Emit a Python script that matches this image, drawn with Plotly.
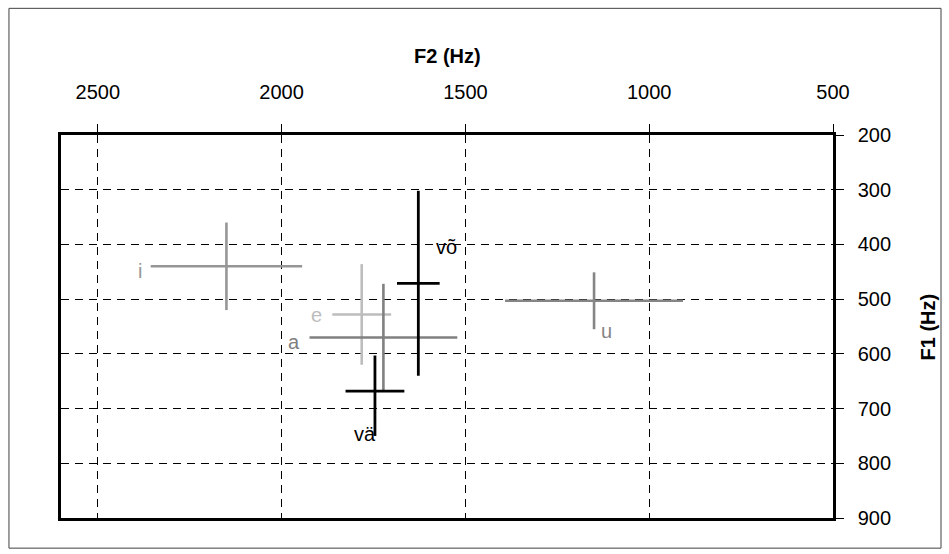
import plotly.graph_objects as go

# Vowel formant means with spread (Hz)
vowels = ["i", "u", "e", "a", "võ", "vä"]
f2_mean = [2150, 1150, 1782, 1723, 1628, 1746]
f2_err = [206, 242, 80, 201, 58, 80]
f1_mean = [440, 503, 528, 570, 471, 668]
f1_err_plus = [80, 52, 92, 98, 169, 82]
f1_err_minus = [80, 52, 92, 98, 169, 65]

colors = ["#969696", "#858585", "#bdbdbd", "#808080", "#000000", "#000000"]
widths = [2.6, 2.6, 2.6, 2.6, 2.8, 2.8]

# label placement: (anchor, xshift, yshift, at left end of the F2 bar?)
label_pos = {
    "i": ("right", -7, -5, True),
    "e": ("right", -8, -1, True),
    "a": ("right", -8, -5, True),
    "võ": ("center", 28, 36, False),
    "vä": ("center", -10, -43, False),
    "u": ("center", 12, -30, False),
}

FONT = "Liberation Sans, Arial, sans-serif"

fig = go.Figure()
for k, v in enumerate(vowels):
    fig.add_trace(go.Scatter(
        x=[f2_mean[k]], y=[f1_mean[k]],
        mode="markers",
        marker=dict(size=1, color="rgba(0,0,0,0)"),
        error_x=dict(type="data", array=[f2_err[k]], symmetric=True,
                     color=colors[k], thickness=widths[k], width=0),
        error_y=dict(type="data", array=[f1_err_plus[k]],
                     arrayminus=[f1_err_minus[k]], symmetric=False,
                     color=colors[k], thickness=widths[k], width=0),
        showlegend=False, hoverinfo="skip", name=v,
    ))
    anchor, dx, dy, at_left = label_pos[v]
    fig.add_annotation(
        x=f2_mean[k] + (f2_err[k] if at_left else 0), y=f1_mean[k],
        text=v, showarrow=False, xanchor=anchor, yanchor="middle",
        xshift=dx, yshift=dy,
        font=dict(family=FONT, size=20,
                  color=colors[k]),
    )

f2_ticks = [2500, 2000, 1500, 1000, 500]
f1_ticks = [200, 300, 400, 500, 600, 700, 800, 900]

fig.update_xaxes(
    range=[2600, 500], side="top",
    tickvals=f2_ticks, ticktext=[str(t) for t in f2_ticks],
    ticks="outside", ticklen=8, tickwidth=1, tickcolor="#000",
    ticklabelstandoff=17,
    showline=True, linewidth=2.5, linecolor="#000", mirror=True,
    showgrid=True, gridcolor="#000", gridwidth=1, griddash="8px,6px",
    zeroline=False,
    tickfont=dict(family=FONT, size=20, color="#000"),
)
fig.update_yaxes(
    range=[900, 200], side="right",
    tickvals=f1_ticks, ticktext=[str(t) for t in f1_ticks],
    ticks="outside", ticklen=8, tickwidth=1, tickcolor="#000",
    ticklabelstandoff=10,
    showline=True, linewidth=2.5, linecolor="#000", mirror=True,
    showgrid=True, gridcolor="#000", gridwidth=1, griddash="8px,6px",
    zeroline=False,
    tickfont=dict(family=FONT, size=20, color="#000"),
)

# axis titles
fig.add_annotation(xref="paper", yref="paper", x=0.5, y=1.207,
                   text="<b>F2 (Hz)</b>", showarrow=False,
                   xanchor="center", yanchor="middle",
                   font=dict(family=FONT, size=20, color="#000"))
fig.add_annotation(xref="paper", yref="paper", x=1.123, y=0.5,
                   text="<b>F1 (Hz)</b>", showarrow=False, textangle=-90,
                   xanchor="center", yanchor="middle",
                   font=dict(family=FONT, size=20, color="#000"))

# outer frame around the whole chart
fig.add_shape(type="rect", xref="paper", yref="paper",
              x0=-0.0674, x1=1.1399, y0=-0.0787, y1=1.3307,
              line=dict(color="#404040", width=1), layer="below")

fig.update_layout(
    width=949, height=554,
    margin=dict(l=61, r=116, t=135, b=36),
    paper_bgcolor="#fff", plot_bgcolor="#fff",
)

fig.write_html("out.html")
